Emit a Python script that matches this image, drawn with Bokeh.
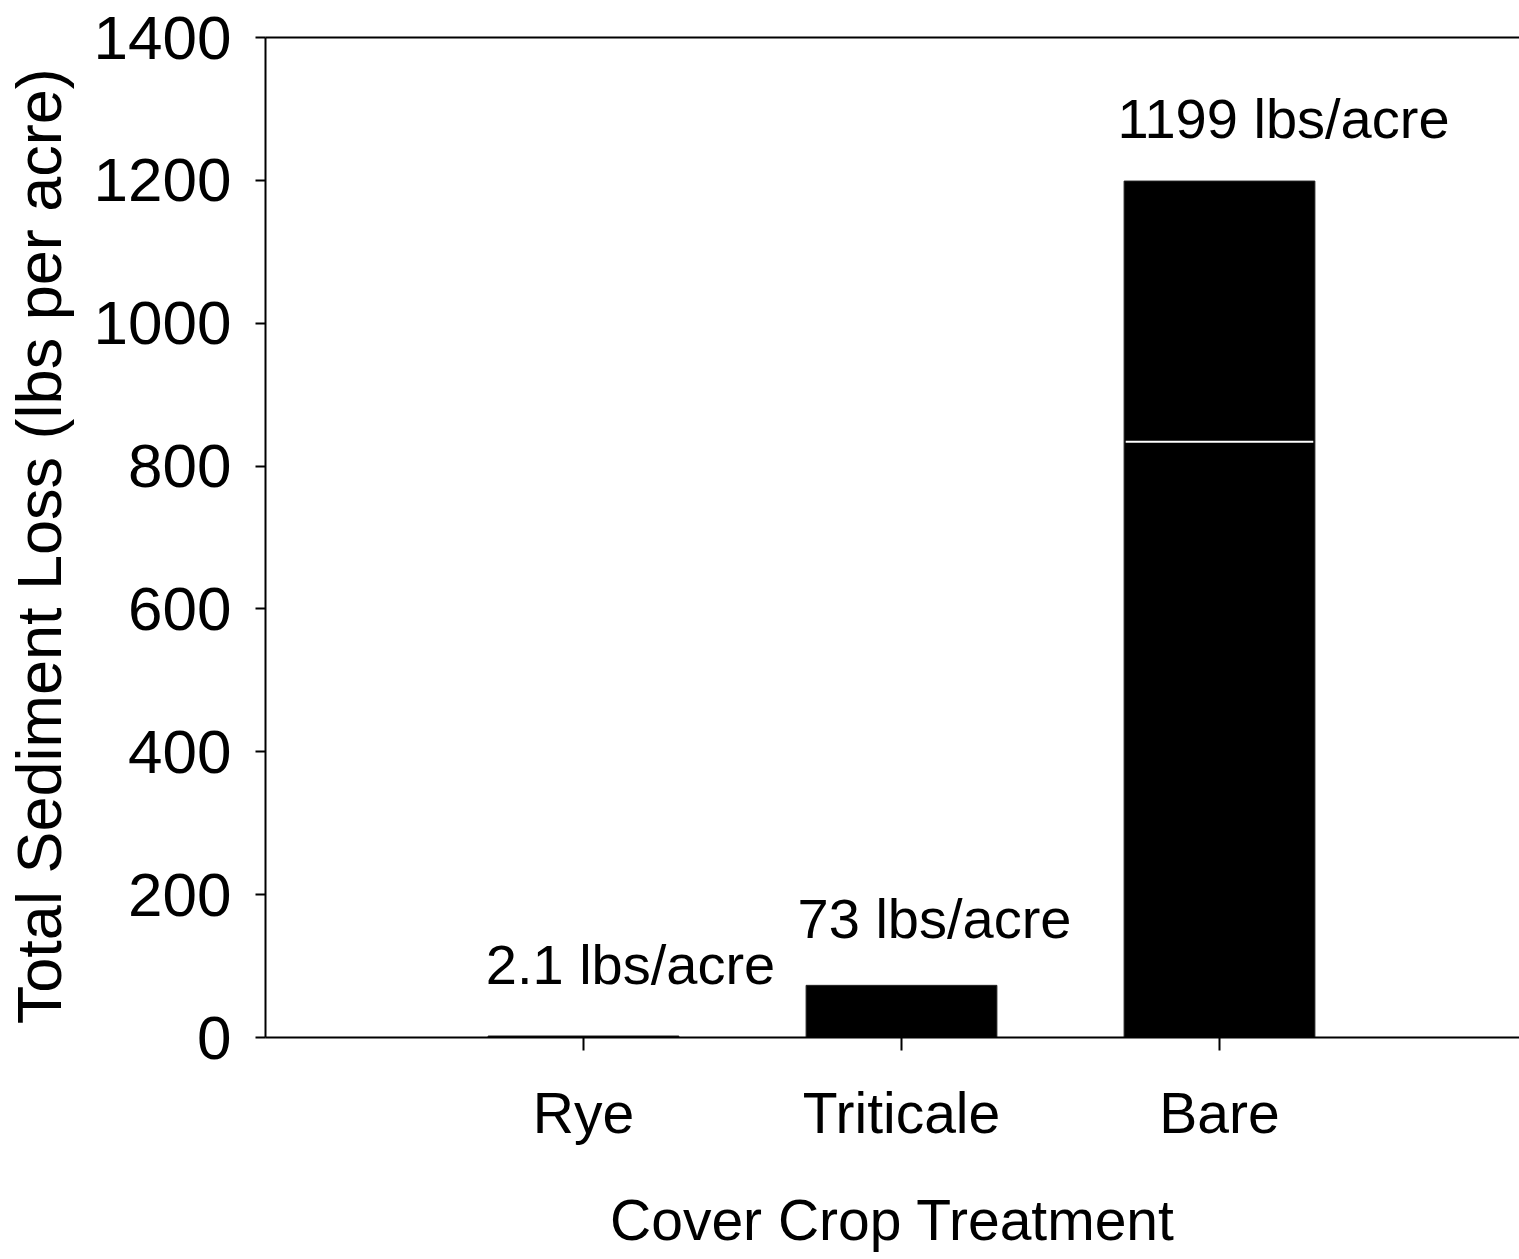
from bokeh.plotting import figure
from bokeh.models import (Range1d, FixedTicker, LinearAxis, ColumnDataSource,
                          LabelSet)
from bokeh.core.properties import value
from bokeh.embed import file_html
from bokeh.resources import INLINE

# ---- data ----
categories = ["Rye", "Triticale", "Bare"]
sediment_loss = [2.1, 73, 1199]
value_labels = ["2.1 lbs/acre", "73 lbs/acre", "1199 lbs/acre"]
y_ticks = [0, 200, 400, 600, 800, 1000, 1200, 1400]
# internal segment break visible inside the Bare bar
split_category = ["Bare"]
split_value = [834]

FONT = "Liberation Sans"

xpos = [i + 1 for i in range(len(categories))]
src = ColumnDataSource(dict(x=xpos, top=sediment_loss, label=value_labels,
                            # annotation offsets (px) as in the original
                            dx=[47, 33, 64], dy=[52, 47, 43]))

p = figure(width=1519, height=1259, output_backend="svg", toolbar_location=None,
           x_range=Range1d(0, 1254 / 318), y_range=Range1d(0, 1400),
           min_border_left=265, min_border_top=37, min_border_right=0,
           min_border_bottom=222)
p.outline_line_color = None
p.xgrid.visible = False
p.ygrid.visible = False
p.background_fill_color = "white"
p.border_fill_color = "white"

p.vbar(x="x", top="top", bottom=0, width=0.6, source=src,
       fill_color="black", line_color="#222222", line_width=1)

sx = [xpos[categories.index(c)] for c in split_category]
p.segment(x0=[x - 0.295 for x in sx], x1=[x + 0.295 for x in sx],
          y0=split_value, y1=split_value, line_color="white", line_width=2)

labels = LabelSet(x="x", y="top", text="label", source=src,
                  x_offset="dx", y_offset="dy",
                  text_align="center", text_baseline="alphabetic",
                  text_font=value(FONT), text_font_size=value("56px"),
                  text_color="black")
p.add_layout(labels)

# y axis
ya = p.yaxis[0]
ya.ticker = FixedTicker(ticks=y_ticks)
ya.axis_label = "Total Sediment Loss  (lbs per acre)"
ya.axis_label_text_font = FONT
ya.axis_label_text_font_size = "63px"
ya.axis_label_text_font_style = "normal"
ya.axis_label_text_color = "black"
ya.axis_label_standoff = 17
ya.major_label_text_font = FONT
ya.major_label_text_font_size = "62px"
ya.major_label_text_color = "black"
ya.major_label_standoff = 24
ya.major_tick_out = 10
ya.major_tick_in = 0
ya.minor_tick_line_color = None
ya.axis_line_width = 2
ya.major_tick_line_width = 2
ya.axis_line_color = "black"

# x axis
xa = p.xaxis[0]
xa.ticker = FixedTicker(ticks=xpos)
xa.major_label_overrides = {x: c for x, c in zip(xpos, categories)}
xa.axis_label = "Cover Crop Treatment"
xa.axis_label_text_font = FONT
xa.axis_label_text_font_size = "57px"
xa.axis_label_text_font_style = "normal"
xa.axis_label_text_color = "black"
xa.axis_label_standoff = 40
xa.major_label_text_font = FONT
xa.major_label_text_font_size = "57px"
xa.major_label_text_color = "black"
xa.major_label_standoff = 30
xa.major_tick_out = 13
xa.major_tick_in = 0
xa.minor_tick_line_color = None
xa.axis_line_width = 2
xa.major_tick_line_width = 2

# top border line
top = LinearAxis(ticker=FixedTicker(ticks=[]), major_label_text_font_size="0px",
                 major_tick_line_color=None, minor_tick_line_color=None,
                 axis_line_width=2)
p.add_layout(top, "above")

open("out.html", "w").write(file_html(p, INLINE))
